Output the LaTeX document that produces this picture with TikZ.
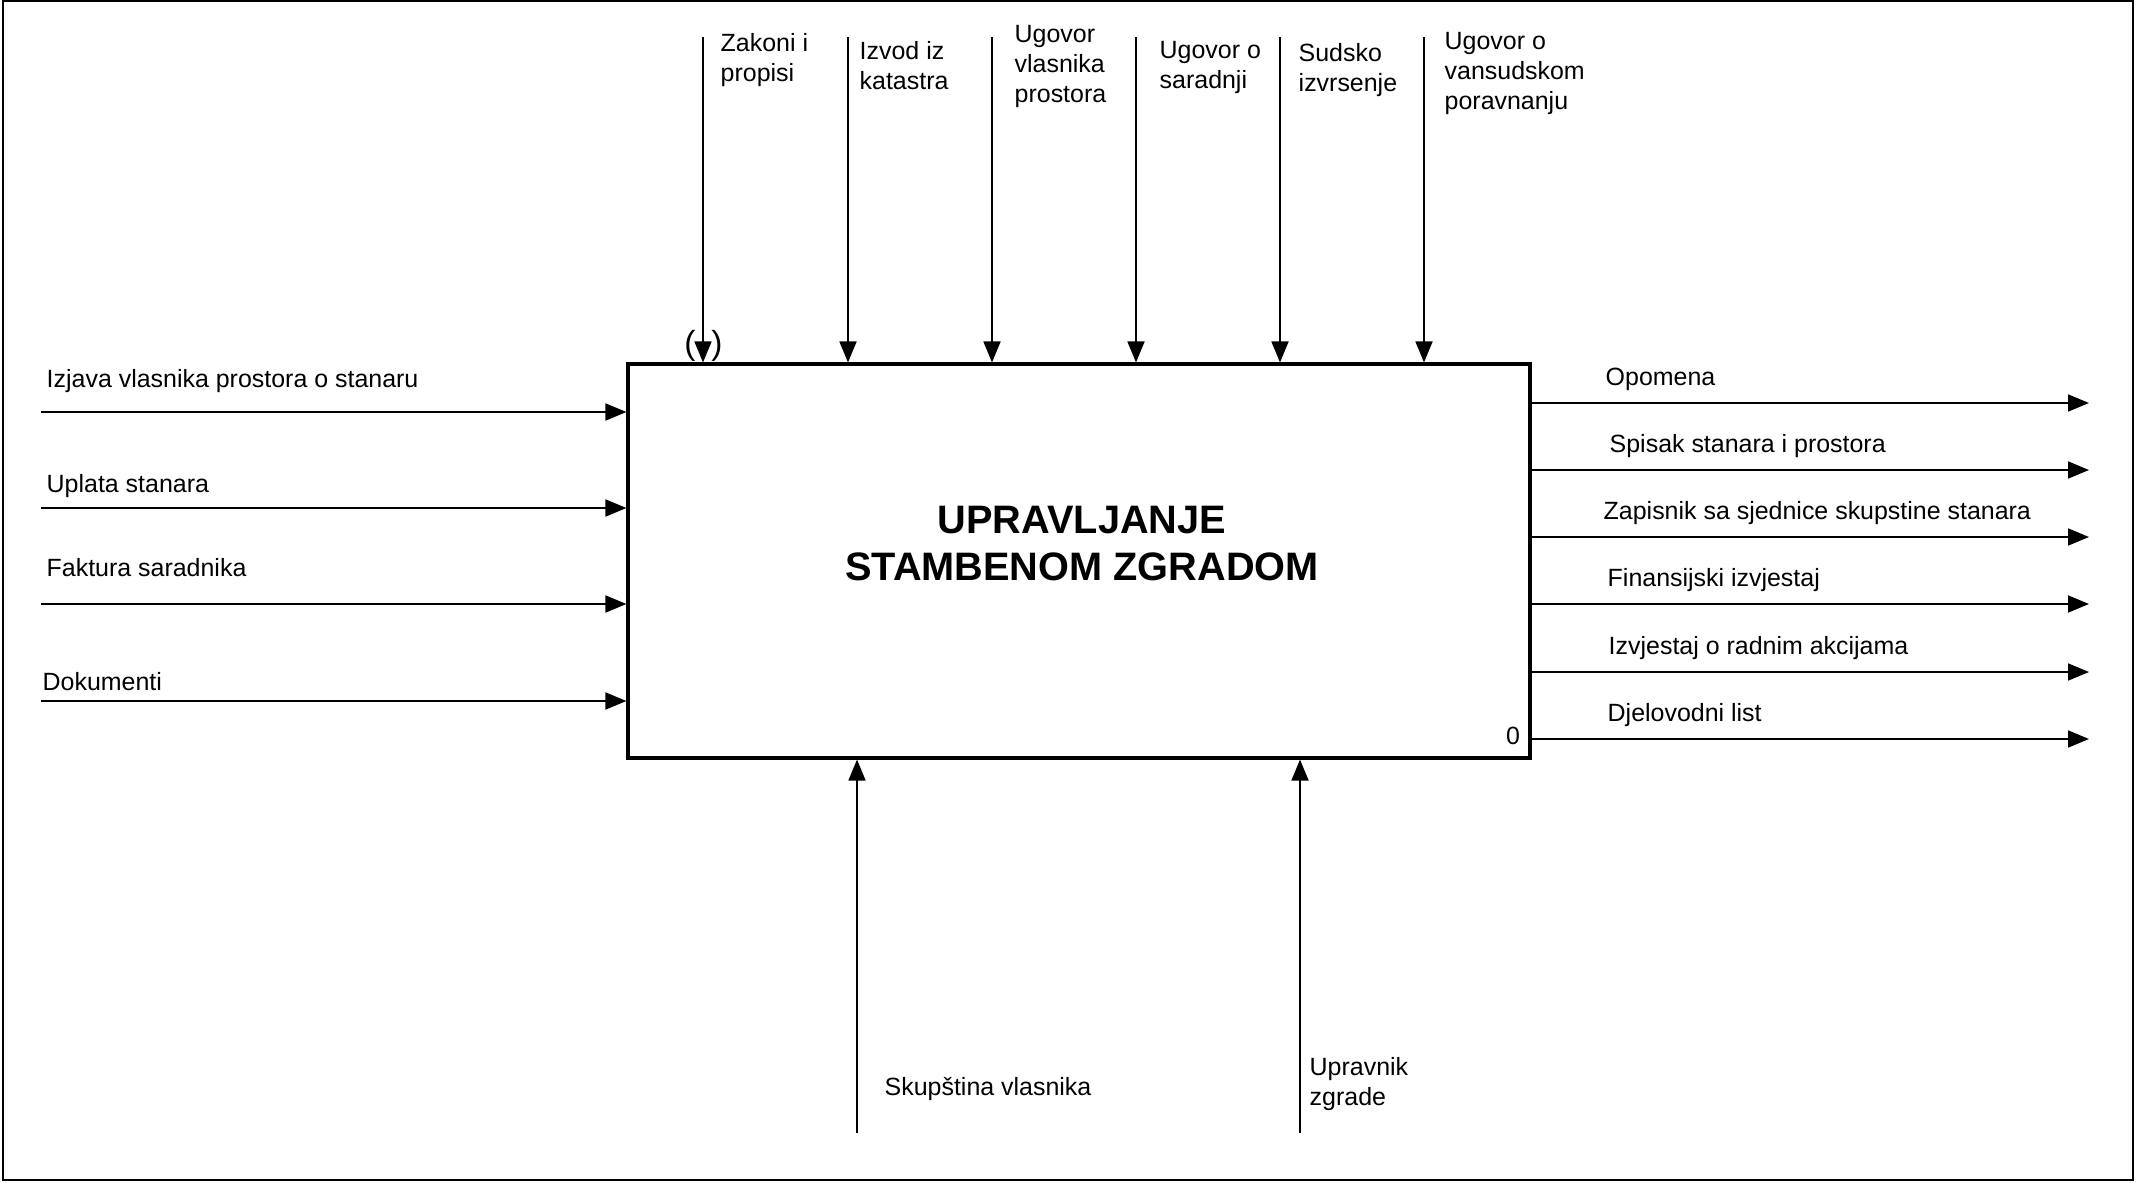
\documentclass[tikz,border=0pt]{standalone}
\usepackage{fontspec}
\setmainfont{Liberation Sans}
\usetikzlibrary{arrows.meta}

\begin{document}
\begin{tikzpicture}[
		lbl/.style={anchor=north west, inner sep=0pt, align=left, font=\fontsize{7.1}{8.55}\selectfont},
		arr/.style={line width=0.5pt, -{Triangle[length=2.1mm, width=1.7mm]}}
	]
					% Frame, box and title:
					\useasboundingbox (0, 0) rectangle (21.47, 11.82);
					\draw[line width=0.6pt] (0.03, 0.02) rectangle (21.33, 11.81);
					\node[draw, line width=0.9pt, minimum width=9.02cm, minimum height=3.94cm, inner sep=0pt](P) at (10.79, 6.21){};
					\node[align=center, font=\fontsize{11.3}{13.4}\selectfont\bfseries](T) at (10.82, 6.385){UPRAVLJANJE\\STAMBENOM ZGRADOM};
					\node[inner sep=0pt, font=\fontsize{7.1}{8.25}\selectfont](Z) at (15.13, 4.46){0};
					% Inputs:
					\coordinate (I1) at (0.41, 7.70);
					\coordinate (I2) at (0.41, 6.74);
					\coordinate (I3) at (0.41, 5.78);
					\coordinate (I4) at (0.41, 4.81);
					\draw[arr] (I1) -- (I1 -| P.west);
					\draw[arr] (I2) -- (I2 -| P.west);
					\draw[arr] (I3) -- (I3 -| P.west);
					\draw[arr] (I4) -- (I4 -| P.west);
					\node[lbl](LI1) at (0.46, 8.13){Izjava vlasnika prostora o stanaru};
					\node[lbl](LI2) at (0.46, 7.08){Uplata stanara};
					\node[lbl](LI3) at (0.46, 6.24){Faktura saradnika};
					\node[lbl](LI4) at (0.42, 5.10){Dokumenti};
					% Controls:
					\coordinate (C1) at (7.03, 11.45);
					\coordinate (C2) at (8.48, 11.45);
					\coordinate (C3) at (9.92, 11.45);
					\coordinate (C4) at (11.36, 11.45);
					\coordinate (C5) at (12.80, 11.45);
					\coordinate (C6) at (14.24, 11.45);
					\draw[arr] (C1) -- (C1 |- P.north);
					\draw[arr] (C2) -- (C2 |- P.north);
					\draw[arr] (C3) -- (C3 |- P.north);
					\draw[arr] (C4) -- (C4 |- P.north);
					\draw[arr] (C5) -- (C5 |- P.north);
					\draw[arr] (C6) -- (C6 |- P.north);
					\node[lbl](LC1) at (7.20, 11.49){Zakoni i\\propisi};
					\node[lbl](LC2) at (8.59, 11.41){Izvod iz\\katastra};
					\node[lbl](LC3) at (10.14, 11.57){Ugovor\\vlasnika\\prostora};
					\node[lbl](LC4) at (11.59, 11.41){Ugovor o\\saradnji};
					\node[lbl](LC5) at (12.98, 11.39){Sudsko\\izvrsenje};
					\node[lbl](LC6) at (14.44, 11.50){Ugovor o\\vansudskom\\poravnanju};
					\node[inner sep=0pt, font=\fontsize{9.5}{11}\selectfont](TL) at (6.90, 8.36){(};
					\node[inner sep=0pt, font=\fontsize{9.5}{11}\selectfont](TR) at (7.17, 8.36){)};
					% Outputs:
					\coordinate (O1) at (20.89, 7.79);
					\coordinate (O2) at (20.89, 7.12);
					\coordinate (O3) at (20.89, 6.45);
					\coordinate (O4) at (20.89, 5.78);
					\coordinate (O5) at (20.89, 5.10);
					\coordinate (O6) at (20.89, 4.43);
					\draw[arr] (O1 -| P.east) -- (O1);
					\draw[arr] (O2 -| P.east) -- (O2);
					\draw[arr] (O3 -| P.east) -- (O3);
					\draw[arr] (O4 -| P.east) -- (O4);
					\draw[arr] (O5 -| P.east) -- (O5);
					\draw[arr] (O6 -| P.east) -- (O6);
					\node[lbl](LO1) at (16.05, 8.15){Opomena};
					\node[lbl](LO2) at (16.09, 7.48){Spisak stanara i prostora};
					\node[lbl](LO3) at (16.03, 6.81){Zapisnik sa sjednice skupstine stanara};
					\node[lbl](LO4) at (16.07, 6.14){Finansijski izvjestaj};
					\node[lbl](LO5) at (16.08, 5.46){Izvjestaj o radnim akcijama};
					\node[lbl](LO6) at (16.07, 4.79){Djelovodni list};
					% Mechanisms:
					\coordinate (M1) at (8.57, 0.49);
					\coordinate (M2) at (13.00, 0.49);
					\draw[arr] (M1) -- (M1 |- P.south);
					\draw[arr] (M2) -- (M2 |- P.south);
					\node[lbl](LM1) at (8.84, 1.05){Skupština vlasnika};
					\node[lbl](LM2) at (13.09, 1.25){Upravnik\\zgrade};
				\end{tikzpicture}
\end{document}
